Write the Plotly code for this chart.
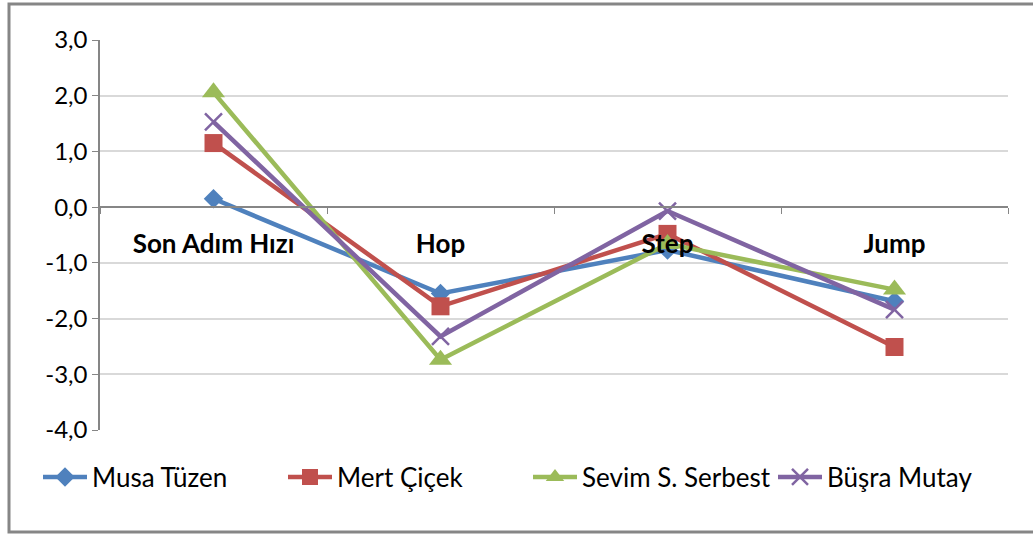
import plotly.graph_objects as go

# kategoriler ve seriler
kategoriler = ["Son Adım Hızı", "Hop", "Step", "Jump"]

musa = [0.15, -1.55, -0.77, -1.69]
mert = [1.15, -1.78, -0.48, -2.51]
sevim = [2.06, -2.74, -0.66, -1.48]
busra = [1.53, -2.32, -0.07, -1.84]

isimler = ["Musa Tüzen", "Mert Çiçek", "Sevim S. Serbest", "Büşra Mutay"]
seriler = [musa, mert, sevim, busra]

y_ticks = [3, 2, 1, 0, -1, -2, -3, -4]
y_etiket = ["3,0", "2,0", "1,0", "0,0", "-1,0", "-2,0", "-3,0", "-4,0"]

renkler = ["#4F81BD", "#C0504D", "#9BBB59", "#8064A2"]
semboller = ["diamond", "square", "triangle-up", "x-thin"]
boyutlar = [15, 18, 20, 17]

FONT = "Lato"

fig = go.Figure()
for ad, y, c, s, b in zip(isimler, seriler, renkler, semboller, boyutlar):
    marker = dict(symbol=s, size=b, color=c)
    if s == "x-thin":
        marker["line"] = dict(color=c, width=2.5)
    fig.add_trace(go.Scatter(
        x=kategoriler, y=y, name=ad, mode="lines+markers",
        line=dict(color=c, width=4.5), marker=marker,
    ))

# grafik cercevesi (px -> paper)
L, T, W, H = 100, 40, 908, 390
def px_x(p): return (p - L) / W
def px_y(p): return (T + H - p) / H

fig.add_shape(type="rect", xref="paper", yref="paper",
              x0=px_x(9), x1=px_x(1045), y0=px_y(532), y1=px_y(4),
              line=dict(color="#868686", width=3), layer="below")

fig.update_layout(
    width=1033, height=536,
    margin=dict(l=L, r=1033 - L - W, t=T, b=536 - T - H),
    paper_bgcolor="white", plot_bgcolor="white",
    font=dict(family=FONT, color="#000000"),
    showlegend=True,
    legend=dict(orientation="h", x=px_x(38), y=px_y(477),
                xanchor="left", yanchor="middle",
                font=dict(family=FONT, size=26, color="#000000"),
                itemwidth=44, entrywidth=186, tracegroupgap=0),
    xaxis=dict(
        type="category", range=[-0.5, 3.5],
        anchor="free", position=4 / 7,
        showline=True, linecolor="#868686", linewidth=1.5,
        ticks="outside", tickson="boundaries", ticklen=6, tickcolor="#868686",
        showgrid=False, zeroline=False,
        tickfont=dict(family=FONT, size=26, color="#000000", weight="bold"),
        ticklabelstandoff=14,
    ),
    yaxis=dict(
        range=[-4, 3], tickvals=y_ticks, ticktext=y_etiket,
        showline=True, linecolor="#868686", linewidth=1.5,
        ticks="outside", ticklen=6, tickcolor="#868686",
        showgrid=True, gridcolor="#D9D9D9", gridwidth=1.5,
        zeroline=False,
        tickfont=dict(family=FONT, size=24, color="#000000"),
    ),
)

fig.write_html("out.html", config={"displayModeBar": False},
               post_script="document.body.style.margin='0';")
